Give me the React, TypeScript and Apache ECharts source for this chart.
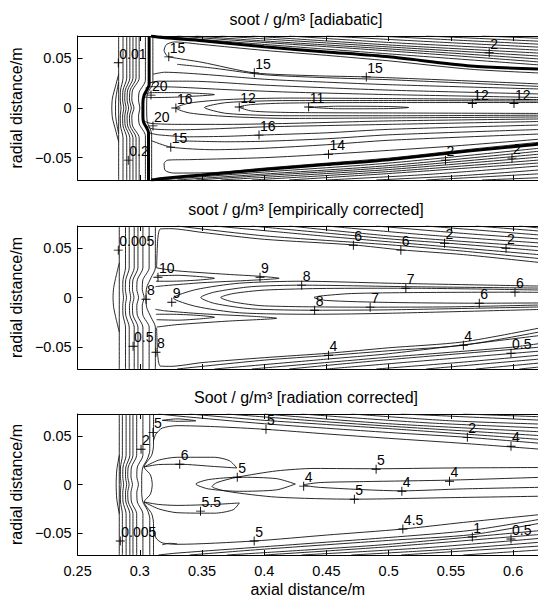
import React, { useEffect, useRef } from "react";
import * as echarts from "echarts";

type Pt = [number, number];
type Lab = [number, number, string];

const FONT = "'Liberation Sans', Arial, Helvetica, sans-serif";

const xTickValues = [0.25, 0.3, 0.35, 0.4, 0.45, 0.5, 0.55, 0.6];
const xTickLabels = ["0.25", "0.3", "0.35", "0.4", "0.45", "0.5", "0.55", "0.6"];
const yTickValues = [-0.05, 0, 0.05];
const yTickLabels = ["\u22120.05", "0", "0.05"];
const xRange = [0.25, 0.62];
const yRange = [-0.0725, 0.0725];
const panelTitles = [
  "soot / g/m\u00b3 [adiabatic]",
  "soot / g/m\u00b3 [empirically corrected]",
  "Soot / g/m\u00b3 [radiation corrected]",
];
const xAxisName = "axial distance/m";
const yAxisName = "radial distance/m";

// ---------- panel 1 : adiabatic ----------
const adiabaticThick: Pt[][] = [
  [[0.3075, 0.0725], [0.3075, 0.024], [0.3035, 0.013], [0.3025, 0.005], [0.3025, -0.008], [0.303, -0.014], [0.307, -0.025], [0.307, -0.0725]],
  [[0.309, 0.0725], [0.32, 0.0707], [0.35, 0.0677], [0.4, 0.0616], [0.45, 0.0565], [0.5, 0.0515], [0.566, 0.0424], [0.625, 0.039]],
  [[0.309, -0.0725], [0.32, -0.0707], [0.35, -0.0675], [0.4, -0.062], [0.45, -0.057], [0.5, -0.052], [0.566, -0.043], [0.625, -0.036]],
];
const adiabaticLines: Pt[][] = [
  [[0.283, 0.0725], [0.283, -0.0725]],
  [[0.283, 0.034], [0.2805, 0.022], [0.278, 0.01], [0.2775, 0], [0.278, -0.01], [0.2805, -0.022], [0.283, -0.034]],
  [[0.283, 0.026], [0.2815, 0.016], [0.2805, 0.006], [0.2805, -0.006], [0.2815, -0.016], [0.283, -0.026]],
  [[0.2865, 0.0725], [0.2865, 0.03], [0.2845, 0.018], [0.2843, 0.008], [0.2849, 0], [0.2843, -0.008], [0.2845, -0.018], [0.2865, -0.03], [0.2865, -0.0725]],
  [[0.2895, 0.0725], [0.2895, 0.03], [0.2865, 0.018], [0.2862, 0.008], [0.2871, 0], [0.2862, -0.008], [0.2865, -0.018], [0.2895, -0.03], [0.2895, -0.0725]],
  [[0.292, 0.0725], [0.292, 0.03], [0.2883, 0.018], [0.2879, 0.008], [0.289, 0], [0.2879, -0.008], [0.2883, -0.018], [0.292, -0.03], [0.292, -0.0725]],
  [[0.2945, 0.0725], [0.2945, 0.03], [0.2902, 0.018], [0.2898, 0.008], [0.291, 0], [0.2898, -0.008], [0.2902, -0.018], [0.2945, -0.03], [0.2945, -0.0725]],
  [[0.297, 0.0725], [0.297, 0.03], [0.2922, 0.018], [0.2917, 0.008], [0.2932, 0], [0.2917, -0.008], [0.2922, -0.018], [0.297, -0.03], [0.297, -0.0725]],
  [[0.2995, 0.0725], [0.2995, 0.03], [0.2942, 0.018], [0.2936, 0.008], [0.2953, 0], [0.2936, -0.008], [0.2942, -0.018], [0.2995, -0.03], [0.2995, -0.0725]],
  [[0.3045, 0.0725], [0.3045, 0.028], [0.2995, 0.016], [0.299, 0.008], [0.3, 0], [0.299, -0.008], [0.2995, -0.016], [0.3045, -0.028], [0.3045, -0.0725]],
  [[0.3105, 0.0725], [0.3105, 0.025], [0.306, 0.014], [0.3055, 0], [0.306, -0.014], [0.3095, -0.026], [0.3095, -0.0725]],
  // upper band
  [[0.316, 0.0725], [0.4, 0.064], [0.5, 0.0545], [0.625, 0.043]],
  [[0.33, 0.0725], [0.4, 0.066], [0.5, 0.0575], [0.625, 0.046]],
  [[0.345, 0.0725], [0.4, 0.0675], [0.5, 0.0595], [0.625, 0.049]],
  [[0.365, 0.0725], [0.45, 0.0655], [0.5, 0.0615], [0.625, 0.052]],
  [[0.39, 0.0725], [0.5, 0.0635], [0.625, 0.055]],
  [[0.42, 0.0725], [0.5, 0.066], [0.625, 0.058]],
  [[0.45, 0.0725], [0.53, 0.067], [0.625, 0.061]],
  [[0.49, 0.0725], [0.56, 0.068], [0.625, 0.064]],
  [[0.53, 0.0725], [0.625, 0.067]],
  [[0.575, 0.0725], [0.625, 0.07]],
  // lower band
  [[0.316, -0.0725], [0.4, -0.0645], [0.5, -0.0555], [0.625, -0.04]],
  [[0.33, -0.0725], [0.4, -0.0665], [0.5, -0.058], [0.625, -0.043]],
  [[0.345, -0.0725], [0.4, -0.068], [0.5, -0.06], [0.625, -0.046]],
  [[0.365, -0.0725], [0.45, -0.066], [0.5, -0.062], [0.625, -0.049]],
  [[0.39, -0.0725], [0.5, -0.064], [0.625, -0.052]],
  [[0.42, -0.0725], [0.5, -0.066], [0.625, -0.055]],
  [[0.45, -0.0725], [0.53, -0.067], [0.625, -0.058]],
  [[0.49, -0.0725], [0.56, -0.068], [0.625, -0.062]],
  [[0.53, -0.0725], [0.625, -0.066]],
  [[0.575, -0.0725], [0.625, -0.07]],
  // interior upper
  [[0.625, 0.035], [0.566, 0.039], [0.5, 0.0475], [0.45, 0.053], [0.4, 0.058], [0.35, 0.064], [0.328, 0.0665], [0.3215, 0.064], [0.3195, 0.058], [0.3215, 0.053], [0.3233, 0.0515], [0.35, 0.046], [0.392, 0.0354], [0.44, 0.0325], [0.482, 0.0313], [0.55, 0.028], [0.625, 0.024]],
  [[0.33, 0.044], [0.36, 0.04], [0.4, 0.0335], [0.45, 0.0305], [0.5, 0.0285], [0.625, 0.0215]],
  [[0.3105, 0.034], [0.32, 0.036], [0.35, 0.034], [0.4, 0.029], [0.45, 0.026], [0.5, 0.0235], [0.625, 0.019]],
  [[0.307, 0.025], [0.315, 0.027], [0.34, 0.027], [0.4, 0.023], [0.5, 0.018], [0.625, 0.014]],
  [[0.3045, 0.02], [0.309, 0.0215], [0.33, 0.021], [0.37, 0.0185], [0.42, 0.016], [0.5, 0.0135], [0.625, 0.0105]],
  [[0.3035, 0.014], [0.31, 0.0155], [0.33, 0.0155], [0.36, 0.0135], [0.33, 0.011], [0.31, 0.0105], [0.3035, 0.011]],
  // interior centre
  [[0.625, 0.0085], [0.5, 0.0095], [0.42, 0.01], [0.37, 0.0085], [0.34, 0.005], [0.329, 0], [0.34, -0.005], [0.37, -0.0085], [0.42, -0.0105], [0.5, -0.01], [0.625, -0.009]],
  [[0.625, 0.007], [0.5, 0.0075], [0.42, 0.0075], [0.37, 0.0055], [0.352, 0.0005], [0.37, -0.0055], [0.42, -0.0078], [0.5, -0.0078], [0.625, -0.0072]],
  [[0.625, 0.0055], [0.5, 0.0055], [0.42, 0.005], [0.39, 0.0035], [0.38, 0.001], [0.39, -0.003], [0.42, -0.0045], [0.5, -0.005], [0.625, -0.0055]],
  [[0.436, 0.0008], [0.46, 0.0018], [0.5, 0.0015], [0.516, 0.0005], [0.5, -0.0006], [0.46, -0.0008], [0.436, 0.0008]],
  // interior lower
  [[0.303, -0.013], [0.309, -0.0155], [0.33, -0.0165], [0.37, -0.0165], [0.42, -0.0155], [0.5, -0.013], [0.625, -0.011]],
  [[0.3055, -0.018], [0.31, -0.021], [0.33, -0.022], [0.36, -0.021], [0.4, -0.019], [0.5, -0.0165], [0.625, -0.0135]],
  [[0.307, -0.025], [0.315, -0.027], [0.34, -0.029], [0.37, -0.0285], [0.396, -0.0273], [0.45, -0.025], [0.5, -0.0215], [0.625, -0.017]],
  [[0.33, -0.033], [0.37, -0.034], [0.4, -0.0335], [0.45, -0.031], [0.5, -0.027], [0.625, -0.0215]],
  [[0.3095, -0.033], [0.325, -0.0394], [0.36, -0.042], [0.4, -0.0405], [0.45, -0.037], [0.5, -0.0325], [0.625, -0.026]],
  [[0.625, -0.031], [0.55, -0.0385], [0.4516, -0.0465], [0.4, -0.05], [0.34, -0.052], [0.3225, -0.0525], [0.3195, -0.056], [0.3205, -0.063], [0.327, -0.0655], [0.36, -0.065], [0.4, -0.0605], [0.45, -0.0555], [0.5, -0.0505], [0.566, -0.0415], [0.625, -0.034]],
];
const adiabaticLabels: Lab[] = [
  [0.2827, 0.0455, "0.01"],
  [0.2907, -0.0525, "0.2"],
  [0.3233, 0.0515, "15"],
  [0.392, 0.0354, "15"],
  [0.482, 0.0313, "15"],
  [0.309, 0.013, "20"],
  [0.3106, -0.018, "20"],
  [0.329, 0, "16"],
  [0.3799, 0.001, "12"],
  [0.4357, 0.001, "11"],
  [0.5672, 0.0045, "12"],
  [0.6007, 0.0045, "12"],
  [0.3958, -0.0273, "16"],
  [0.3249, -0.0394, "15"],
  [0.4516, -0.0465, "14"],
  [0.5808, 0.0556, "2"],
  [0.5457, -0.0525, "2"],
  [0.5991, -0.0505, "2"],
];

// ---------- panel 2 : empirically corrected ----------
const empiricalLines: Pt[][] = [
  [[0.2835, 0.0725], [0.2835, -0.0725]],
  [[0.2835, 0.035], [0.281, 0.022], [0.279, 0.01], [0.2785, 0], [0.279, -0.01], [0.281, -0.022], [0.2835, -0.035]],
  [[0.2885, 0.0725], [0.2885, 0.03], [0.2865, 0.018], [0.2863, 0.008], [0.2869, 0], [0.2863, -0.008], [0.2865, -0.018], [0.2885, -0.03], [0.2885, -0.0725]],
  [[0.2915, 0.0725], [0.2915, 0.03], [0.2887, 0.018], [0.2884, 0.008], [0.2893, 0], [0.2884, -0.008], [0.2887, -0.018], [0.2915, -0.03], [0.2915, -0.0725]],
  [[0.2955, 0.0725], [0.2955, 0.03], [0.292, 0.018], [0.2917, 0.008], [0.2927, 0], [0.2917, -0.008], [0.292, -0.018], [0.2955, -0.03], [0.2955, -0.0725]],
  [[0.2985, 0.0725], [0.2985, 0.03], [0.2945, 0.018], [0.2941, 0.008], [0.2953, 0], [0.2941, -0.008], [0.2945, -0.018], [0.2985, -0.03], [0.2985, -0.0725]],
  [[0.3025, 0.0725], [0.3025, 0.03], [0.298, 0.018], [0.2976, 0.008], [0.299, 0], [0.2976, -0.008], [0.298, -0.018], [0.3025, -0.03], [0.3025, -0.0725]],
  [[0.3075, 0.0725], [0.3075, 0.03], [0.3025, 0.018], [0.302, 0.008], [0.3035, 0], [0.302, -0.008], [0.3025, -0.018], [0.3075, -0.03], [0.3075, -0.0725]],
  [[0.3125, 0.0725], [0.3125, 0.03], [0.309, 0.02], [0.3055, 0.01], [0.305, 0], [0.3055, -0.01], [0.309, -0.02], [0.3125, -0.03], [0.3125, -0.0725]],
  // top band
  [[0.3135, 0.03], [0.3145, 0.06], [0.3165, 0.0695], [0.325, 0.0698], [0.35, 0.066], [0.4, 0.059], [0.4716, 0.0533], [0.5098, 0.0483], [0.56, 0.0435], [0.625, 0.035]],
  [[0.33, 0.0725], [0.4, 0.0625], [0.5, 0.0535], [0.56, 0.047], [0.625, 0.039]],
  [[0.36, 0.0725], [0.45, 0.062], [0.5, 0.0565], [0.625, 0.043]],
  [[0.39, 0.0725], [0.5, 0.0595], [0.5449, 0.0553], [0.5943, 0.0503], [0.625, 0.047]],
  [[0.42, 0.0725], [0.5, 0.0625], [0.625, 0.051]],
  [[0.45, 0.0725], [0.53, 0.0635], [0.625, 0.055]],
  [[0.49, 0.0725], [0.56, 0.065], [0.625, 0.059]],
  [[0.53, 0.0725], [0.625, 0.063]],
  [[0.57, 0.0725], [0.625, 0.067]],
  [[0.605, 0.0725], [0.625, 0.07]],
  // bottom band
  [[0.3135, -0.031], [0.3145, -0.06], [0.3165, -0.0695], [0.325, -0.0698], [0.35, -0.066], [0.4, -0.061], [0.4516, -0.0565], [0.5, -0.051], [0.56, -0.045], [0.625, -0.03]],
  [[0.33, -0.0725], [0.4, -0.0635], [0.4516, -0.0588], [0.5, -0.054], [0.56, -0.0484], [0.625, -0.034]],
  [[0.36, -0.0725], [0.45, -0.0625], [0.5, -0.057], [0.625, -0.038]],
  [[0.39, -0.0725], [0.5, -0.0605], [0.5983, -0.0505], [0.625, -0.046]],
  [[0.42, -0.0725], [0.5, -0.063], [0.625, -0.05]],
  [[0.45, -0.0725], [0.53, -0.064], [0.625, -0.054]],
  [[0.49, -0.0725], [0.56, -0.0655], [0.625, -0.058]],
  [[0.53, -0.0725], [0.625, -0.062]],
  [[0.57, -0.0725], [0.625, -0.066]],
  [[0.605, -0.0725], [0.625, -0.07]],
  // lenses
  [[0.3135, 0.03], [0.33, 0.027], [0.37, 0.0235], [0.3966, 0.0215], [0.412, 0.0195], [0.39, 0.0175], [0.35, 0.015], [0.32, 0.012], [0.3125, 0.011]],
  [[0.3135, 0.022], [0.33, 0.0225], [0.35, 0.021], [0.36, 0.0195], [0.345, 0.0175], [0.325, 0.0165], [0.313, 0.0165]],
  [[0.3135, -0.03], [0.33, -0.0275], [0.37, -0.024], [0.41, -0.021], [0.39, -0.019], [0.35, -0.0165], [0.32, -0.0135], [0.3125, -0.012]],
  [[0.3135, -0.0225], [0.33, -0.023], [0.35, -0.0215], [0.36, -0.02], [0.345, -0.018], [0.325, -0.017], [0.313, -0.017]],
  // nested centre contours
  [[0.625, 0.0115], [0.5, 0.0145], [0.43, 0.0165], [0.38, 0.0145], [0.345, 0.008], [0.327, -0.0005], [0.345, -0.009], [0.38, -0.0155], [0.44, -0.017], [0.5, -0.016], [0.625, -0.012]],
  [[0.625, 0.0095], [0.5138, 0.011], [0.43, 0.0125], [0.39, 0.011], [0.36, 0.0055], [0.349, 0], [0.36, -0.006], [0.39, -0.0115], [0.4405, -0.0129], [0.5, -0.0125], [0.625, -0.0095]],
  [[0.625, 0.0075], [0.5138, 0.0094], [0.45, 0.0092], [0.4, 0.0075], [0.375, 0.004], [0.365, 0], [0.375, -0.0045], [0.4, -0.0085], [0.4851, -0.0098], [0.55, -0.0095], [0.625, -0.0075]],
  [[0.625, 0.0052], [0.6015, 0.0054], [0.52, 0.005], [0.47, 0.004], [0.445, 0.0015], [0.44, 0], [0.45, -0.003], [0.5, -0.005], [0.5728, -0.0058], [0.625, -0.0055]],
];
const empiricalLabels: Lab[] = [
  [0.2827, 0.048, "0.005"],
  [0.3146, 0.0206, "10"],
  [0.305, -0.0017, "8"],
  [0.3257, -0.0048, "9"],
  [0.3966, 0.0206, "9"],
  [0.2946, -0.0494, "0.5"],
  [0.313, -0.0555, "8"],
  [0.4716, 0.053, "6"],
  [0.5098, 0.048, "6"],
  [0.5449, 0.055, "2"],
  [0.5943, 0.05, "2"],
  [0.4301, 0.0125, "8"],
  [0.5138, 0.0094, "7"],
  [0.6015, 0.0054, "6"],
  [0.4405, -0.0129, "8"],
  [0.4851, -0.0098, "7"],
  [0.5728, -0.0058, "6"],
  [0.4516, -0.0585, "4"],
  [0.56, -0.0484, "4"],
  [0.5983, -0.0565, "0.5"],
];

// ---------- panel 3 : radiation corrected ----------
const radiationLines: Pt[][] = [
  [[0.2835, 0.0725], [0.2835, -0.0725]],
  [[0.2835, 0.03], [0.2815, 0.015], [0.281, 0], [0.2815, -0.015], [0.2835, -0.03]],
  [[0.286, 0.0725], [0.286, 0.03], [0.2845, 0.018], [0.2844, 0.008], [0.2849, 0], [0.2844, -0.008], [0.2845, -0.018], [0.286, -0.03], [0.286, -0.0725]],
  [[0.289, 0.0725], [0.289, 0.03], [0.2865, 0.018], [0.2863, 0.008], [0.287, 0], [0.2863, -0.008], [0.2865, -0.018], [0.289, -0.03], [0.289, -0.0725]],
  [[0.292, 0.0725], [0.292, 0.03], [0.2888, 0.018], [0.2885, 0.008], [0.2894, 0], [0.2885, -0.008], [0.2888, -0.018], [0.292, -0.03], [0.292, -0.0725]],
  [[0.2945, 0.0725], [0.2945, 0.03], [0.2907, 0.018], [0.2903, 0.008], [0.2914, 0], [0.2903, -0.008], [0.2907, -0.018], [0.2945, -0.03], [0.2945, -0.0725]],
  [[0.2975, 0.0725], [0.2975, 0.03], [0.2933, 0.018], [0.2929, 0.008], [0.2941, 0], [0.2929, -0.008], [0.2933, -0.018], [0.2975, -0.03], [0.2975, -0.0725]],
  [[0.3025, 0.0725], [0.3025, 0.03], [0.298, 0.018], [0.2976, 0.008], [0.2989, 0], [0.2976, -0.008], [0.298, -0.018], [0.3025, -0.03], [0.3025, -0.0725]],
  [[0.308, 0.0725], [0.308, 0.035], [0.306, 0.026], [0.3025, 0.018], [0.3015, 0.008], [0.3015, -0.008], [0.3025, -0.018], [0.306, -0.026], [0.308, -0.035], [0.308, -0.0725]],
  [[0.311, 0.0725], [0.311, 0.04], [0.3095, 0.03], [0.3035, 0.018], [0.3085, 0.01], [0.31, 0], [0.3085, -0.01], [0.3035, -0.018], [0.3095, -0.03], [0.311, -0.04], [0.311, -0.0725]],
  // top band
  [[0.311, 0.045], [0.313, 0.052], [0.318, 0.058], [0.33, 0.0605], [0.36, 0.0595], [0.4014, 0.0567], [0.45, 0.052], [0.5, 0.0475], [0.5632, 0.042], [0.625, 0.036]],
  [[0.315, 0.0725], [0.33, 0.0705], [0.4, 0.0625], [0.5, 0.0535], [0.5632, 0.0485], [0.625, 0.042]],
  [[0.34, 0.0725], [0.4, 0.066], [0.5, 0.0575], [0.625, 0.046]],
  [[0.37, 0.0725], [0.45, 0.0645], [0.5, 0.06], [0.625, 0.05]],
  [[0.4, 0.0725], [0.5, 0.0625], [0.625, 0.054]],
  [[0.43, 0.0725], [0.53, 0.0635], [0.625, 0.058]],
  [[0.47, 0.0725], [0.55, 0.0655], [0.625, 0.062]],
  [[0.51, 0.0725], [0.625, 0.066]],
  [[0.56, 0.0725], [0.625, 0.0695]],
  [[0.318, 0.066], [0.33, 0.065], [0.345, 0.0655], [0.33, 0.0675], [0.318, 0.066]],
  // bottom band
  [[0.311, -0.045], [0.313, -0.055], [0.318, -0.06], [0.33, -0.0615], [0.3919, -0.0581], [0.45, -0.052], [0.5114, -0.0458], [0.56, -0.039], [0.625, -0.0305]],
  [[0.315, -0.0725], [0.33, -0.0705], [0.4, -0.064], [0.5, -0.0545], [0.5672, -0.047], [0.625, -0.035]],
  [[0.34, -0.0725], [0.4, -0.0665], [0.5, -0.0575], [0.5672, -0.0515], [0.625, -0.039]],
  [[0.37, -0.0725], [0.45, -0.066], [0.5, -0.0615], [0.625, -0.047]],
  [[0.4, -0.0725], [0.5, -0.064], [0.625, -0.051]],
  [[0.43, -0.0725], [0.53, -0.065], [0.625, -0.055]],
  [[0.47, -0.0725], [0.55, -0.0665], [0.625, -0.059]],
  [[0.51, -0.0725], [0.625, -0.063]],
  [[0.56, -0.0725], [0.625, -0.067]],
  [[0.318, -0.062], [0.324, -0.0605], [0.33, -0.061]],
  // lenses and centre
  [[0.3035, 0.018], [0.315, 0.025], [0.33, 0.028], [0.36, 0.028], [0.372, 0.0245], [0.378, 0.017], [0.36, 0.0185], [0.3321, 0.0208], [0.315, 0.0205], [0.3035, 0.018]],
  [[0.3035, -0.018], [0.315, -0.025], [0.33, -0.029], [0.36, -0.0295], [0.375, -0.026], [0.38, -0.019], [0.36, -0.0205], [0.33, -0.0215], [0.315, -0.0205], [0.3035, -0.018]],
  [[0.625, 0.0175], [0.55, 0.017], [0.4899, 0.0162], [0.44, 0.0165], [0.41, 0.014], [0.3783, 0.0075], [0.362, 0.002], [0.358, -0.002], [0.37, -0.007], [0.41, -0.013], [0.4724, -0.0151], [0.55, -0.0135], [0.625, -0.012]],
  [[0.425, 0.0005], [0.41, 0.006], [0.38, 0.0075], [0.355, 0.005], [0.345, 0.0005], [0.355, -0.0045], [0.38, -0.007], [0.41, -0.0055], [0.425, 0.0005]],
  [[0.625, 0.0075], [0.5489, 0.0045], [0.48, 0.003], [0.445, 0.002], [0.4317, -0.0005], [0.445, -0.003], [0.5106, -0.0065], [0.56, -0.0045], [0.625, -0.0028]],
];
const radiationLabels: Lab[] = [
  [0.3106, 0.0536, "5"],
  [0.301, 0.0362, "2"],
  [0.3321, 0.0208, "6"],
  [0.3783, 0.0075, "5"],
  [0.3488, -0.0274, "5.5"],
  [0.2843, -0.0581, "0.005"],
  [0.3919, -0.0581, "5"],
  [0.4014, 0.0567, "5"],
  [0.5632, 0.0485, "2"],
  [0.5983, 0.0393, "4"],
  [0.4899, 0.0157, "5"],
  [0.5489, 0.0034, "4"],
  [0.4317, -0.0017, "4"],
  [0.5106, -0.0069, "4"],
  [0.4724, -0.0151, "5"],
  [0.5114, -0.0458, "4.5"],
  [0.5672, -0.054, "1"],
  [0.5983, -0.0561, "0.5"],
];

const panelLines = [adiabaticLines, empiricalLines, radiationLines];
const panelThick = [adiabaticThick, [] as Pt[][], [] as Pt[][]];
const panelLabels = [adiabaticLabels, empiricalLabels, radiationLabels];

const grids = [
  { left: 74, top: 36, width: 464, height: 144 },
  { left: 74, top: 226, width: 464, height: 143 },
  { left: 74, top: 414, width: 464, height: 142 },
];
const titleY = [19, 209, 397];
const PLUS = "path://M4.5,0h1v10h-1z M0,4.5h10v1h-10z";

function pick(values: number[], labels: string[], v: number): string {
  const i = values.findIndex((t) => Math.abs(t - v) < 1e-9);
  return i >= 0 ? labels[i] : "";
}

function buildOption() {
  const xAxis: any[] = [];
  const yAxis: any[] = [];
  const series: any[] = [];
  grids.forEach((_, i) => {
    const line = { show: true, onZero: false, lineStyle: { color: "#000", width: 1 } };
    xAxis.push({
      type: "value", gridIndex: i, min: xRange[0], max: xRange[1], position: "bottom",
      axisLine: line,
      axisTick: { show: true, inside: true, length: 5, customValues: xTickValues, lineStyle: { color: "#000" } },
      axisLabel: {
        show: i === 2, customValues: xTickValues, margin: 8, fontSize: 14.5, color: "#000", fontFamily: FONT,
        formatter: (v: number) => pick(xTickValues, xTickLabels, v),
      },
      splitLine: { show: false },
      name: i === 2 ? xAxisName : "", nameLocation: "middle", nameGap: 26,
      nameTextStyle: { fontSize: 16, color: "#000", fontFamily: FONT },
    });
    xAxis.push({
      type: "value", gridIndex: i, min: xRange[0], max: xRange[1], position: "top",
      axisLine: line,
      axisTick: { show: true, inside: true, length: 5, customValues: xTickValues, lineStyle: { color: "#000" } },
      axisLabel: { show: false },
      splitLine: { show: false },
    });
    yAxis.push({
      type: "value", gridIndex: i, min: yRange[0], max: yRange[1],
      axisLine: line,
      axisTick: { show: true, inside: true, length: 5, customValues: yTickValues, lineStyle: { color: "#000" } },
      axisLabel: {
        customValues: yTickValues, margin: 6, fontSize: 14.5, color: "#000", fontFamily: FONT,
        formatter: (v: number) => pick(yTickValues, yTickLabels, v),
      },
      splitLine: { show: false },
      name: yAxisName, nameLocation: "middle", nameGap: 45, nameRotate: 90,
      nameTextStyle: { fontSize: 16, color: "#000", fontFamily: FONT },
    });
    panelLines[i].forEach((pts) => {
      series.push({
        type: "line", xAxisIndex: i * 2, yAxisIndex: i, data: pts, showSymbol: false, symbol: "none",
        smooth: 0.25, silent: true, lineStyle: { color: "#111", width: 0.9 }, z: 2,
      });
    });
    panelThick[i].forEach((pts) => {
      series.push({
        type: "line", xAxisIndex: i * 2, yAxisIndex: i, data: pts, showSymbol: false, symbol: "none",
        smooth: 0.25, silent: true, lineStyle: { color: "#000", width: 3 }, z: 3,
      });
    });
    series.push({
      type: "scatter", xAxisIndex: i * 2, yAxisIndex: i, symbol: PLUS, symbolSize: 9, silent: true, z: 5,
      itemStyle: { color: "#000", opacity: 1 },
      data: panelLabels[i].map((l) => ({ value: [l[0], l[1]], name: l[2] })),
      label: {
        show: true, formatter: "{b}", position: "inside", align: "left", verticalAlign: "bottom",
        offset: [1, -2], fontSize: 14, color: "#000", fontFamily: FONT, opacity: 1,
        textBorderWidth: 0, textBorderColor: "transparent", textShadowBlur: 0,
      },
    });
  });
  return {
    animation: false,
    backgroundColor: "#fff",
    grid: grids.map((g) => ({ ...g, containLabel: false })),
    xAxis,
    yAxis,
    series,
    graphic: panelTitles.map((t, i) => ({
      type: "text", x: 306, y: titleY[i],
      style: {
        text: t, fontSize: 16, fontFamily: FONT, fill: "#000",
        textAlign: "center", textVerticalAlign: "middle", align: "center", verticalAlign: "middle",
      },
    })),
  };
}

export default function App() {
  const ref = useRef<HTMLDivElement>(null);
  useEffect(() => {
    if (!ref.current) return;
    const chart = echarts.init(ref.current, undefined, { renderer: "svg" });
    chart.setOption(buildOption() as any);
    return () => chart.dispose();
  }, []);
  return (
    <div
      ref={ref}
      style={{ position: "absolute", left: 0, top: 0, width: 538, height: 598, background: "#fff" }}
    />
  );
}
